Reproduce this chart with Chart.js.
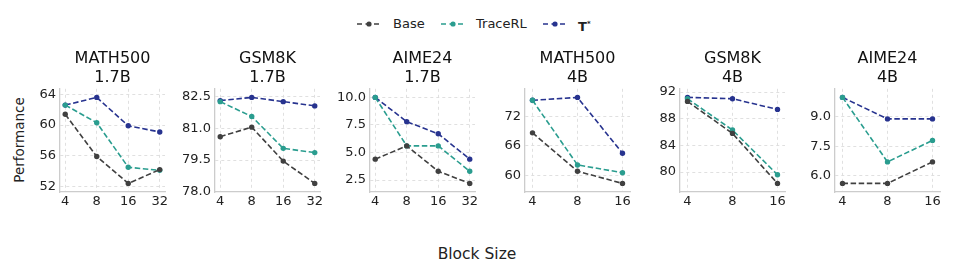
<!DOCTYPE html>
<html>
<head>
<meta charset="utf-8">
<script src="https://cdn.jsdelivr.net/npm/chart.js@4.4.1/dist/chart.umd.min.js"></script>
<style>
  body { margin: 0; background: #fff; font-family: "DejaVu Sans", sans-serif; }
  #wrap { position: relative; width: 960px; height: 270px; overflow: hidden; }
  canvas { position: absolute; }
  .lg { position: absolute; top: 15px; height: 18px; font-size: 13px; color: #222; line-height: 18px; }
  .lg svg { position: absolute; top: 4px; }
  #xlab { position: absolute; left: 0; width: 954px; top: 245px; text-align: center; font-size: 15.5px; color: #222; }
  #ylab { position: absolute; left: 19px; top: 140px; font-size: 13.5px; color: #222;
          transform: translate(-50%, -50%) rotate(-90deg); white-space: nowrap; }
</style>
</head>
<body>
<div id="wrap">
  <div class="lg" style="left:357px"><svg width="24" height="10"><line x1="0" y1="5" x2="24" y2="5" stroke="#404040" stroke-width="1.6" stroke-dasharray="5 3.5"/><circle cx="12" cy="5" r="2.6" fill="#404040"/></svg><span style="margin-left:36px">Base</span></div>
  <div class="lg" style="left:441px"><svg width="24" height="10"><line x1="0" y1="5" x2="24" y2="5" stroke="#2a9d8f" stroke-width="1.6" stroke-dasharray="5 3.5"/><circle cx="12" cy="5" r="2.6" fill="#2a9d8f"/></svg><span style="margin-left:35px">TraceRL</span></div>
  <div class="lg" style="left:543px"><svg width="24" height="10"><line x1="0" y1="5" x2="24" y2="5" stroke="#27338f" stroke-width="1.6" stroke-dasharray="5 3.5"/><circle cx="12" cy="5" r="2.6" fill="#27338f"/></svg><span style="margin-left:35px;font-weight:bold">T<sup style="font-size:7px">*</sup></span></div>
  <div id="xlab">Block Size</div>
  <div id="ylab">Performance</div>
</div>
<script>
// panel titles and x categories
const titles = [['MATH500', '1.7B'], ['GSM8K', '1.7B'], ['AIME24', '1.7B'],
                ['MATH500', '4B'], ['GSM8K', '4B'], ['AIME24', '4B']];
const blocks17 = ['4', '8', '16', '32'];
const blocks4 = ['4', '8', '16'];
const categories = [blocks17, blocks17, blocks17, blocks4, blocks4, blocks4];

// series values per panel
const baseVals = [
  [61.4, 55.9, 52.4, 54.2],
  [80.6, 81.05, 79.45, 78.4],
  [4.4, 5.6, 3.3, 2.2],
  [68.7, 60.8, 58.3],
  [90.6, 85.8, 78.3],
  [5.6, 5.6, 6.7]
];
const traceVals = [
  [62.6, 60.3, 54.5, 54.1],
  [82.25, 81.55, 80.05, 79.85],
  [10.0, 5.6, 5.6, 3.3],
  [75.4, 62.1, 60.5],
  [91.0, 86.3, 79.6],
  [10.0, 6.7, 7.8]
];
const tstarVals = [
  [62.6, 63.6, 59.9, 59.1],
  [82.3, 82.45, 82.25, 82.05],
  [10.0, 7.8, 6.7, 4.4],
  [75.4, 76.0, 64.5],
  [91.2, 91.0, 89.4],
  [10.0, 8.9, 8.9]
];

// y tick labels
const yTickLabels = [
  ['52', '56', '60', '64'],
  ['78.0', '79.5', '81.0', '82.5'],
  ['2.5', '5.0', '7.5', '10.0'],
  ['60', '66', '72'],
  ['80', '84', '88', '92'],
  ['6.0', '7.5', '9.0']
];

const seriesNames = ['Base', 'TraceRL', 'T*'];
const seriesColors = ['#404040', '#2a9d8f', '#27338f'];

const wrap = document.getElementById('wrap');
const plotW = 105, axisW = 42;

titles.forEach((title, i) => {
  const left = 59.5 + 155 * i;
  const cv = document.createElement('canvas');
  cv.width = axisW + plotW + 10;
  cv.height = 174;
  cv.style.left = (left - axisW) + 'px';
  cv.style.top = '40px';
  wrap.appendChild(cv);

  const cats = categories[i];
  const all = baseVals[i].concat(traceVals[i], tstarVals[i]);
  const lo = Math.min(...all), hi = Math.max(...all);
  const pad = (hi - lo) * 0.1;

  const datasets = [baseVals[i], traceVals[i], tstarVals[i]].map((vals, s) => ({
    label: seriesNames[s],
    data: vals.map((v, k) => ({ x: k, y: v })),
    borderColor: seriesColors[s],
    backgroundColor: seriesColors[s],
    borderWidth: 1.6,
    borderDash: [5.5, 2.6],
    pointRadius: 2.7,
    pointBorderWidth: 0,
    tension: 0
  }));

  new Chart(cv, {
    type: 'line',
    data: { datasets },
    options: {
      responsive: false,
      animation: false,
      layout: { padding: { top: 0, right: 10, bottom: 0, left: 0 } },
      plugins: {
        legend: { display: false },
        tooltip: { enabled: false },
        title: {
          display: true,
          fullSize: false,
          text: title,
          color: '#111',
          font: { family: 'DejaVu Sans', size: 16, weight: 'normal', lineHeight: 1.15 },
          padding: { top: 9.75, bottom: 2.25 }
        }
      },
      scales: {
        x: {
          type: 'linear',
          min: -1 / 6,
          max: cats.length - 1 + 1 / 6,
          afterBuildTicks: sc => { sc.ticks = cats.map((c, k) => ({ value: k })); },
          afterFit: sc => { sc.height = 22; },
          ticks: {
            callback: v => cats[v],
            color: '#222',
            font: { family: 'DejaVu Sans', size: 13 },
            padding: 2,
            maxRotation: 0
          },
          grid: { color: '#dddddd', lineWidth: 0.9, drawTicks: false },
          border: { display: true, color: '#cccccc', width: 1.3, dash: [3, 3] }
        },
        y: {
          min: lo - pad,
          max: hi + pad,
          afterBuildTicks: sc => { sc.ticks = yTickLabels[i].map(t => ({ value: parseFloat(t) })); },
          afterFit: sc => { sc.width = axisW; },
          ticks: {
            callback: (v, idx) => yTickLabels[i][idx],
            color: '#222',
            font: { family: 'DejaVu Sans', size: 13 },
            padding: 4
          },
          grid: { color: '#dddddd', lineWidth: 0.9, drawTicks: false },
          border: { display: true, color: '#cccccc', width: 1.3, dash: [3, 3] }
        }
      }
    }
  });
});
</script>
</body>
</html>
